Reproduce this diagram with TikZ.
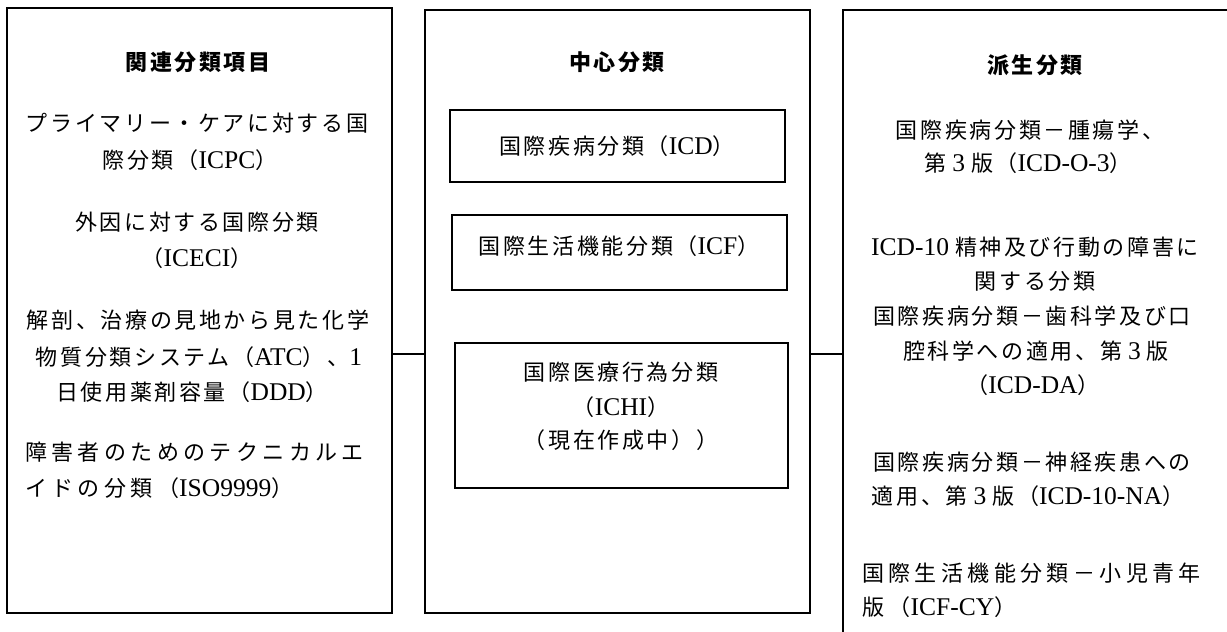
\documentclass[tikz,border=0pt]{standalone}
\usepackage{fontspec}
\setmainfont{Noto Sans CJK JP}[LetterSpace=12]
\newfontfamily\jpwide{Noto Sans CJK JP}[LetterSpace=20]
\newfontfamily\latf{Liberation Serif}
\newcommand\La[1]{{\latf\fontsize{25.5}{26}\selectfont #1}}
\begin{document}
\begin{tikzpicture}[x=1pt,y=-1pt,
  frame/.style={draw,line width=2pt,inner sep=0pt},
  inbox/.style={draw,line width=2pt,inner sep=0pt},
  conn/.style={line width=2pt},
  txt/.style={inner sep=0pt,font=\fontsize{22}{26}\selectfont},
  ttl/.style={inner sep=0pt,font=\fontsize{22}{26}\selectfont\bfseries},
  txtl/.style={inner sep=0pt,anchor=west,font=\fontsize{22}{26}\selectfont\jpwide}]
\useasboundingbox (0,0) rectangle (1227,632);
% outer frames
\node[frame,minimum width=385pt,minimum height=605pt] (L) at (199.5,310.5) {};
\node[frame,minimum width=385pt,minimum height=603pt] (M) at (617.5,311.5) {};
\coordinate (Rtop) at (1235,10);
\coordinate (Rcorner) at (843,10);
\coordinate (Rbot) at (843,640);
\draw[line width=2pt] (Rtop) -- (Rcorner) -- (Rbot);
\coordinate (RL) at (843,354);
% inner boxes
\node[inbox,minimum width=335pt,minimum height=72pt] (icd) at (617.5,146) {};
\node[inbox,minimum width=335pt,minimum height=75pt] (icf) at (619.5,252.5) {};
\node[inbox,minimum width=333pt,minimum height=145pt] (ichi) at (621.5,415.5) {};
% connectors
\draw[conn] (L.east |- RL) -- (M.west |- RL);
\draw[conn] (M.east |- RL) -- (RL);
% left texts
\node[ttl] (t1) at (198,62) {関連分類項目};
\node[txt] (a1) at (197,123) {プライマリー・ケアに対する国};
\node[txt] (a2) at (190,160) {際分類（\La{ICPC}）};
\node[txt] (a3) at (197,222) {外因に対する国際分類};
\node[txt] (a4) at (197,258) {（\La{ICECI}）};
\node[txt] (a5) at (198,320) {解剖、治療の見地から見た化学};
\node[txt] (a6) at (199,357) {物質分類システム（\La{ATC}）、\La{1}};
\node[txt] (a7) at (192,392) {日使用薬剤容量（\La{DDD}）};
\node[txtl] (a8) at (25,452) {障害者のためのテクニカルエ};
\node[txtl] (a9) at (25,488) {イドの分類（\La{ISO9999}）};
% middle texts
\node[ttl] (t2) at (617,62) {中心分類};
\node[txt] (b1) at (617,146) {国際疾病分類（\La{ICD}）};
\node[txt] (b2) at (619,246) {国際生活機能分類（\La{ICF}）};
\node[txt] (b3) at (621,372) {国際医療行為分類};
\node[txt] (b4) at (621,407) {（\La{ICHI}）};
\node[txt] (b5) at (621,440) {（現在作成中））};
% right texts
\node[ttl] (t3) at (1035,65) {派生分類};
\node[txt] (c1) at (1030,130) {国際疾病分類－腫瘍学、};
\node[txt] (c2) at (1028,163) {第\hspace{6pt}\La{3}\hspace{6pt}版（\La{ICD-O-3}）};
\node[txt] (c3) at (1035,247) {\La{ICD-10}\hspace{6pt}精神及び行動の障害に};
\node[txt] (c4) at (1035,281) {関する分類};
\node[txt] (c5) at (1032,316) {国際疾病分類－歯科学及び口};
\node[txt] (c6) at (1036,351) {腔科学への適用、第\hspace{6pt}\La{3}\hspace{6pt}版};
\node[txt] (c7) at (1033,385) {（\La{ICD-DA}）};
\node[txt] (c8) at (1032,462) {国際疾病分類－神経疾患への};
\node[txt] (c9) at (1028,496) {適用、第\hspace{6pt}\La{3}\hspace{6pt}版（\La{ICD-10-NA}）};
\node[txtl] (c10) at (862,573) {国際生活機能分類－小児青年};
\node[txtl] (c11) at (862,607) {版（\La{ICF-CY}）};
\end{tikzpicture}
\end{document}
